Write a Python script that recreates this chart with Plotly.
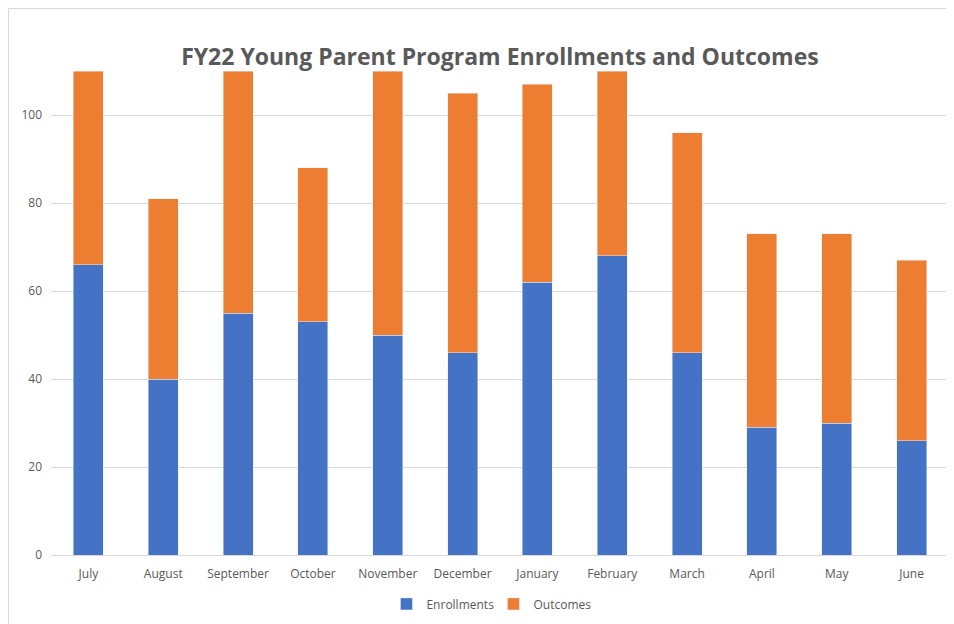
import plotly.graph_objects as go

months = ["July", "August", "September", "October", "November", "December",
          "January", "February", "March", "April", "May", "June"]
enrollments = [66, 40, 55, 53, 50, 46, 62, 68, 46, 29, 30, 26]
outcomes = [44, 41, 55, 35, 60, 59, 45, 42, 50, 44, 43, 41]

fig = go.Figure()
fig.add_trace(go.Bar(x=months, y=enrollments, name="Enrollments", marker_color="#4472c4"))
fig.add_trace(go.Bar(x=months, y=outcomes, name="Outcomes", marker_color="#ed7d31"))

# page body has an 8px margin, so the figure is sized 946x616 to fill the window
fig.update_layout(
    barmode="stack",
    bargap=0.6,
    width=946, height=616,
    margin=dict(l=43, r=5, t=63, b=69),
    plot_bgcolor="white", paper_bgcolor="white",
    font=dict(family="Open Sans", size=12, color="#595959"),
    title=dict(text="<b>FY22 Young Parent Program Enrollments and Outcomes</b>",
               x=0.52, xanchor="center", y=0.92, yanchor="middle",
               font=dict(size=23, color="#595959")),
    legend=dict(orientation="h", x=0.4927, xanchor="center", y=-0.101, yanchor="middle",
                traceorder="normal", font=dict(size=12, color="#595959"),
                itemwidth=30, entrywidth=62, entrywidthmode="pixels"),
    xaxis=dict(showline=True, linecolor="#d9d9d9", ticks="", tickfont=dict(size=12),
               ticklabelstandoff=8),
    yaxis=dict(range=[0, 110], dtick=20, gridcolor="#d9d9d9", zeroline=False,
               ticks="", tickfont=dict(size=12), ticklabelstandoff=8),
    shapes=[dict(type="rect", xref="paper", yref="paper", x0=-0.0473, x1=1.5, y0=-0.5, y1=1.1291,
                 line=dict(color="#d9d9d9", width=1))],
)

fig.write_html("out.html")
